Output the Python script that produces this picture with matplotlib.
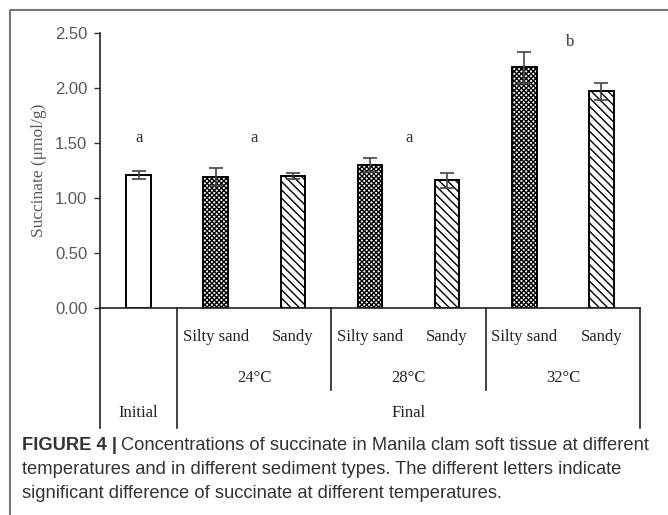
import numpy as np
import matplotlib
matplotlib.use('Agg')
from matplotlib import pyplot as plt
from matplotlib.transforms import blended_transform_factory
from matplotlib.lines import Line2D

# data
sediments = ['', 'Silty sand', 'Sandy', 'Silty sand', 'Sandy', 'Silty sand', 'Sandy']
temps = ['24\u00b0C', '28\u00b0C', '32\u00b0C']
stages = ['Initial', 'Final']
succinate = [1.21, 1.19, 1.20, 1.30, 1.16, 2.19, 1.97]
errors = [0.04, 0.08, 0.025, 0.065, 0.065, 0.14, 0.08]
hatches = ['', 'xxxxxxx', '\\\\\\\\', 'xxxxxxx', '\\\\\\\\', 'xxxxxxx', '\\\\\\\\']
letters = ['a', 'a', 'a', 'b']
letter_x = [0, 1.5, 3.5, 5.6]
letter_y = [1.55, 1.55, 1.55, 2.42]

W, H = 668, 515
plt.rcParams['hatch.linewidth'] = 1.0
fig = plt.figure(figsize=(W / 100, H / 100), dpi=100)
ax = fig.add_axes([100 / W, 1 - 308 / H, 540 / W, 275 / H])

x = np.arange(len(succinate))
ax.bar(x, succinate, width=0.32, color='white', edgecolor='black',
       linewidth=1.4, hatch=hatches, zorder=2)
ax.errorbar(x, succinate, yerr=errors, fmt='none', ecolor='#444444',
            elinewidth=1.2, capsize=5, capthick=1.2, zorder=3)

for lx, ly, t in zip(letter_x, letter_y, letters):
    ax.text(lx, ly, t, ha='center', va='center', family='Liberation Serif',
            fontsize=12, color='#333333')

ax.set_xlim(-0.5, 6.5)
ax.set_ylim(0, 2.5)
ax.set_yticks(np.arange(0, 2.51, 0.5))
ax.set_yticklabels(['%.2f' % v for v in np.arange(0, 2.51, 0.5)],
                   family='Liberation Sans', fontsize=12, color='#595959')
ax.set_xticks([])
ax.tick_params(axis='y', length=4, width=1, color='#333333', pad=5)
for s in ['top', 'right']:
    ax.spines[s].set_visible(False)
ax.spines['left'].set_color('#222222')
ax.spines['bottom'].set_color('#222222')
ax.spines['left'].set_linewidth(1.2)
ax.spines['bottom'].set_linewidth(1.2)
ax.set_ylabel('Succinate (\u03bcmol/g)', family='Liberation Serif',
              fontsize=12.5, color='#595959', labelpad=6)

# category table below the axis
tr = blended_transform_factory(ax.transData, fig.transFigure)
def fy(py):
    return 1 - py / H

for bx, bottom in [(-0.5, 428), (0.5, 428), (6.5, 428), (2.5, 390), (4.5, 390)]:
    fig.add_artist(Line2D([bx, bx], [fy(308), fy(bottom)], transform=tr,
                          color='#222222', lw=1.2))

lab_kw = dict(transform=tr, ha='center', va='center',
              family='Liberation Serif', fontsize=12, color='#222222')
for i, lab in enumerate(sediments):
    if lab:
        fig.text(i, fy(337), lab, **lab_kw)
for i, t in enumerate(temps):
    fig.text(1.5 + 2 * i, fy(378), t, **lab_kw)
fig.text(0, fy(413), stages[0], **lab_kw)
fig.text(3.5, fy(413), stages[1], **lab_kw)

# frame
fig.add_artist(Line2D([10 / W, 10 / W, 1], [0, fy(10), fy(10)],
                      transform=fig.transFigure, color='#777777', lw=1.5))

# caption
cap_kw = dict(family='Liberation Sans', fontsize=13.2, color='#333333', va='center')
head = fig.text(22 / W, fy(446), 'FIGURE 4 |', fontweight='bold', **cap_kw)
fig.canvas.draw()
bb = head.get_window_extent()
fig.text((bb.x1 + 4) / W, fy(446),
         'Concentrations of succinate in Manila clam soft tissue at different', **cap_kw)
fig.text(22 / W, fy(470),
         'temperatures and in different sediment types. The different letters indicate', **cap_kw)
fig.text(22 / W, fy(493),
         'significant difference of succinate at different temperatures.', **cap_kw)

plt.savefig('out.png', dpi=100)
